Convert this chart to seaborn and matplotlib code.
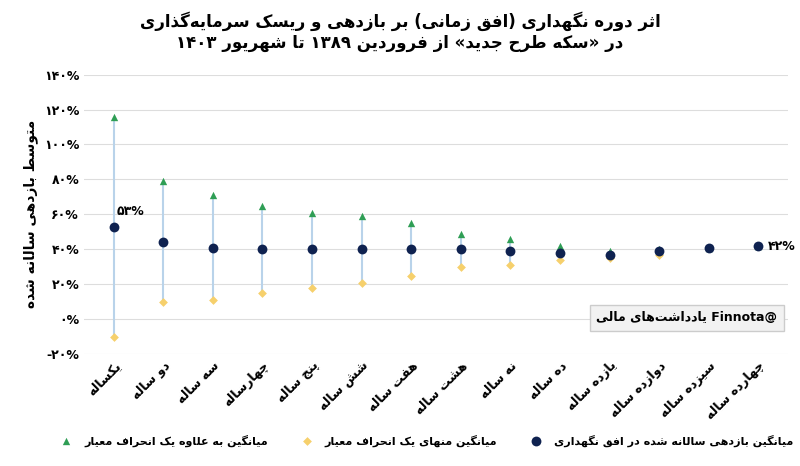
import re
import matplotlib
matplotlib.use("Agg")
import matplotlib.pyplot as plt
import seaborn as sns
import pandas as pd

years = ["یکساله", "دو ساله", "سه ساله", "چهارساله", "پنج ساله", "شش ساله", "هفت ساله",
         "هشت ساله", "نه ساله", "ده ساله", "یازده ساله", "دوازده ساله", "سیزده ساله", "چهارده ساله"]
mean_ret = [53, 44, 41, 40, 40, 40, 40, 40, 39, 38, 37, 39, 41, 42]
upper = [116, 79, 71, 65, 61, 59, 55, 49, 46, 42, 39, 40, 41, 42]
lower = [-10, 10, 11, 15, 18, 21, 25, 30, 31, 34, 35, 37, 41, 42]
yticks = [-20, 0, 20, 40, 60, 80, 100, 120, 140]

# simple Persian shaping (presentation forms) + visual reordering
FORMS = {
    "ا": (0xFE8D, 0xFE8E, None, None), "آ": (0xFE81, 0xFE82, None, None),
    "ب": (0xFE8F, 0xFE90, 0xFE91, 0xFE92), "پ": (0xFB56, 0xFB57, 0xFB58, 0xFB59),
    "ت": (0xFE95, 0xFE96, 0xFE97, 0xFE98), "ث": (0xFE99, 0xFE9A, 0xFE9B, 0xFE9C),
    "ج": (0xFE9D, 0xFE9E, 0xFE9F, 0xFEA0), "چ": (0xFB7A, 0xFB7B, 0xFB7C, 0xFB7D),
    "ح": (0xFEA1, 0xFEA2, 0xFEA3, 0xFEA4), "خ": (0xFEA5, 0xFEA6, 0xFEA7, 0xFEA8),
    "د": (0xFEA9, 0xFEAA, None, None), "ذ": (0xFEAB, 0xFEAC, None, None),
    "ر": (0xFEAD, 0xFEAE, None, None), "ز": (0xFEAF, 0xFEB0, None, None),
    "ژ": (0xFB8A, 0xFB8B, None, None),
    "س": (0xFEB1, 0xFEB2, 0xFEB3, 0xFEB4), "ش": (0xFEB5, 0xFEB6, 0xFEB7, 0xFEB8),
    "ص": (0xFEB9, 0xFEBA, 0xFEBB, 0xFEBC), "ض": (0xFEBD, 0xFEBE, 0xFEBF, 0xFEC0),
    "ط": (0xFEC1, 0xFEC2, 0xFEC3, 0xFEC4), "ظ": (0xFEC5, 0xFEC6, 0xFEC7, 0xFEC8),
    "ع": (0xFEC9, 0xFECA, 0xFECB, 0xFECC), "غ": (0xFECD, 0xFECE, 0xFECF, 0xFED0),
    "ف": (0xFED1, 0xFED2, 0xFED3, 0xFED4), "ق": (0xFED5, 0xFED6, 0xFED7, 0xFED8),
    "ک": (0xFB8E, 0xFB8F, 0xFB90, 0xFB91), "گ": (0xFB92, 0xFB93, 0xFB94, 0xFB95),
    "ل": (0xFEDD, 0xFEDE, 0xFEDF, 0xFEE0), "م": (0xFEE1, 0xFEE2, 0xFEE3, 0xFEE4),
    "ن": (0xFEE5, 0xFEE6, 0xFEE7, 0xFEE8), "و": (0xFEED, 0xFEEE, None, None),
    "ه": (0xFEE9, 0xFEEA, 0xFEEB, 0xFEEC), "ی": (0xFBFC, 0xFBFD, 0xFBFE, 0xFBFF),
}


def fa(text):
    out = []
    for i, ch in enumerate(text):
        if ch not in FORMS:
            if ch != "\u200c":
                out.append(ch)
            continue
        prev = text[i - 1] if i > 0 else ""
        nxt = text[i + 1] if i + 1 < len(text) else ""
        jp = prev in FORMS and FORMS[prev][2] is not None
        jn = FORMS[ch][2] is not None and nxt in FORMS
        iso, fin, ini, med = FORMS[ch]
        code = med if (jp and jn) else fin if jp else ini if jn else iso
        out.append(chr(code))
    s = "".join(out)[::-1]
    s = re.sub(r"[0-9۰-۹A-Za-z@%.]+", lambda m: m.group(0)[::-1], s)
    return s.translate(str.maketrans("«»()", "»«)("))


def fanum(v):
    return str(v).translate(str.maketrans("0123456789-", "۰۱۲۳۴۵۶۷۸۹-"))


plt.rcParams["font.family"] = "DejaVu Sans"
navy, green, yellow, line_c = "#0f2250", "#2f9e55", "#f6d06c", "#b9d3ea"

df = pd.DataFrame({"x": range(len(years)), "mean": mean_ret, "up": upper, "lo": lower})

fig, ax = plt.subplots(figsize=(8, 4.66), dpi=100)
fig.subplots_adjust(left=0.105, right=0.985, top=0.84, bottom=0.24)
ax.vlines(df["x"], df["lo"], df["up"], color=line_c, lw=1.5, zorder=1)
sns.scatterplot(data=df, x="x", y="up", marker="^", color=green, s=28, linewidth=0, ax=ax, zorder=3,
                label=fa("میانگین به علاوه یک انحراف معیار"), legend=False)
sns.scatterplot(data=df, x="x", y="lo", marker="D", color=yellow, s=20, linewidth=0, ax=ax, zorder=3,
                label=fa("میانگین منهای یک انحراف معیار"), legend=False)
sns.scatterplot(data=df, x="x", y="mean", marker="o", color=navy, s=50, linewidth=0, ax=ax, zorder=4,
                label=fa("میانگین بازدهی سالانه شده در افق نگهداری"), legend=False)

ax.set_ylim(-20, 140)
ax.set_xlim(-0.6, len(years) - 0.4)
ax.set_yticks(yticks)
ax.set_yticklabels([fanum(v) + "%" for v in yticks], fontsize=9, fontweight="bold")
ax.set_xticks(df["x"])
ax.set_xticklabels([fa(y) for y in years], rotation=45, ha="right", rotation_mode="anchor",
                   fontsize=9, fontweight="bold")
ax.tick_params(length=0)
ax.grid(axis="y", color="#dddddd", lw=0.8)
ax.set_axisbelow(True)
for sp in ax.spines.values():
    sp.set_visible(False)
ax.set_xlabel("")
ax.set_ylabel(fa("متوسط بازدهی سالانه شده"), fontsize=10, fontweight="bold")

ax.annotate(fanum(mean_ret[0]) + "%", (0, mean_ret[0]), xytext=(2, 8), textcoords="offset points",
            fontsize=9, fontweight="bold")
ax.annotate(fanum(mean_ret[-1]) + "%", (len(years) - 1, mean_ret[-1]), xytext=(7, -3),
            textcoords="offset points", fontsize=9, fontweight="bold")

ax.text(0.985, 0.13, fa("یادداشت\u200cهای مالی") + " Finnota@", transform=ax.transAxes, ha="right",
        va="center", fontsize=9, fontweight="bold",
        bbox=dict(boxstyle="square,pad=0.5", fc="#f2f2f2", ec="#cccccc"))

fig.suptitle(fa("اثر دوره نگهداری (افق زمانی) بر بازدهی و ریسک سرمایه\u200cگذاری") + "\n"
             + fa("در «سکه طرح جدید» از فروردین ۱۳۸۹ تا شهریور ۱۴۰۳"),
             fontsize=12, fontweight="bold", y=0.975)

handles, labels = ax.get_legend_handles_labels()
fig.legend(handles, labels, loc="lower center", bbox_to_anchor=(0.53, 0.02), ncol=3, frameon=False,
           prop={"weight": "bold", "size": 8}, columnspacing=2.5, handletextpad=0.6)

fig.savefig("out.png", dpi=100)
